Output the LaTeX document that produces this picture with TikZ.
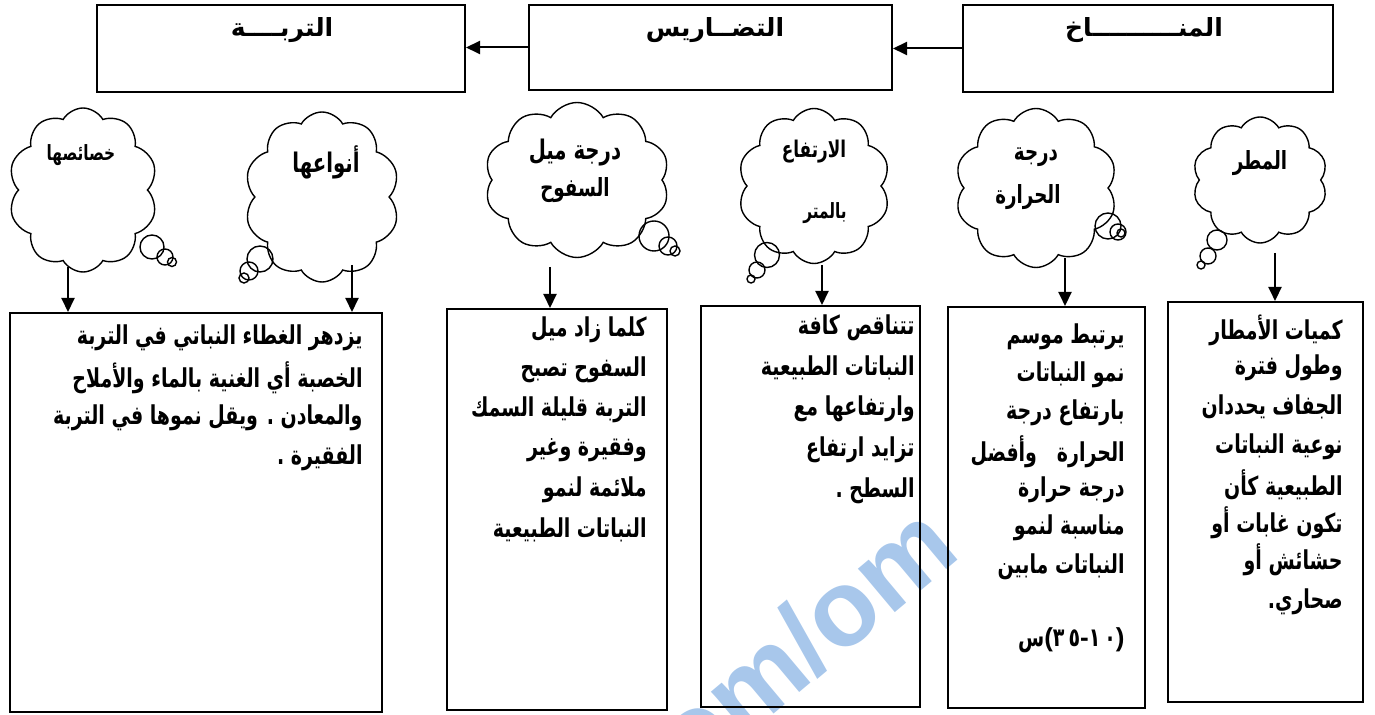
\documentclass[tikz,border=0pt]{standalone}
\usepackage{fontspec}
\usetikzlibrary{shapes.symbols,arrows.meta}
\TeXXeTstate=1
\newfontfamily\arabicfont[Script=Arabic,FakeStretch=0.73]{DejaVu Sans}
\newfontfamily\arabichd[Script=Arabic]{DejaVu Sans}
\newfontfamily\wmfont{Liberation Sans}
\definecolor{wmblue}{RGB}{168,199,235}
\newcommand{\artxt}[1]{\beginR #1\endR}
\begin{document}
\begin{tikzpicture}[x=0.5pt,y=-0.5pt,
  box/.style={draw, line width=1pt, inner sep=0pt},
  arr/.style={line width=1pt, -{Triangle[length=7pt,width=6.5pt]}},
  cl/.style={cloud, draw, line width=0.7pt, cloud puffs=10, cloud puff arc=120, cloud ignores aspect, inner sep=0pt},
  bub/.style={draw, line width=0.7pt, circle, inner sep=0pt},
  ln/.style={anchor=east, inner sep=0pt, font=\arabicfont\bfseries\fontsize{13}{15}\selectfont},
  hd/.style={inner sep=0pt, font=\arabichd\bfseries\fontsize{12.5}{14}\selectfont},
  ct/.style={inner sep=0pt, font=\arabicfont\bfseries\fontsize{#1}{14}\selectfont}
]
\useasboundingbox (0,0) rectangle (1375,715);
% watermark
\begin{scope}
\clip (0,0) rectangle (1375,715);
\node[inner sep=0pt, rotate=40, text=wmblue, font=\wmfont\bfseries\fontsize{54}{58}\selectfont] (wm) at (803,640) {om/om};
\end{scope}
% top boxes
\node[box, minimum width=184pt, minimum height=43.5pt] (T1) at (281,48.5) {};
\node[box, minimum width=181.5pt, minimum height=42.5pt] (T2) at (710.5,47.5) {};
\node[box, minimum width=185pt, minimum height=43.5pt] (T3) at (1148,48.5) {};
\node[hd] (h1) at (282,30) {\artxt{التربــــة}};
\node[hd] (h2) at (715,30) {\artxt{التضــاريس}};
\node[hd] (h3) at (1144,30) {\artxt{المنــــــــــاخ}};
\draw[arr] (T3.west) -- (T3.west -| T2.east);
\draw[arr] (T2.west) -- (T2.west -| T1.east);
% clouds
\node[cl, minimum width=74.5pt, minimum height=82pt] (C1) at (83,190) {};
\node[cl, minimum width=77.5pt, minimum height=85pt] (C2) at (322,197) {};
\node[cl, minimum width=92.5pt, minimum height=77.5pt] (C3) at (577,180) {};
\node[cl, minimum width=76pt, minimum height=77.5pt] (C4) at (814,186) {};
\node[cl, minimum width=81pt, minimum height=79.5pt] (C5) at (1036,188) {};
\node[cl, minimum width=67.5pt, minimum height=63pt] (C6) at (1260,180) {};
% bubbles
\node[bub, minimum size=12pt] (b1a) at (152,247) {};
\node[bub, minimum size=8pt] (b1b) at (165,257) {};
\node[bub, minimum size=4.5pt] (b1c) at (172,262) {};
\node[bub, minimum size=13pt] (b2a) at (260,259) {};
\node[bub, minimum size=9pt] (b2b) at (249,271) {};
\node[bub, minimum size=5pt] (b2c) at (244,278) {};
\node[bub, minimum size=15pt] (b3a) at (654,236) {};
\node[bub, minimum size=9pt] (b3b) at (668,246) {};
\node[bub, minimum size=5pt] (b3c) at (675,251) {};
\node[bub, minimum size=12.5pt] (b4a) at (767,255) {};
\node[bub, minimum size=8pt] (b4b) at (757,270) {};
\node[bub, minimum size=4pt] (b4c) at (751,279) {};
\node[bub, minimum size=13pt] (b5a) at (1108,226) {};
\node[bub, minimum size=8pt] (b5b) at (1118,232) {};
\node[bub, minimum size=4pt] (b5c) at (1121,233) {};
\node[bub, minimum size=10pt] (b6a) at (1217,240) {};
\node[bub, minimum size=8pt] (b6b) at (1208,256) {};
\node[bub, minimum size=4pt] (b6c) at (1201,265) {};
% cloud texts
\node[ct=10.5] (c1t) at (81,155) {\artxt{خصائصها}};
\node[ct=13.5] (c2t) at (326,162) {\artxt{أنواعها}};
\node[ct=13.5] (c3t1) at (575,153) {\artxt{درجة ميل}};
\node[ct=12.5] (c3t2) at (575,190) {\artxt{السفوح}};
\node[ct=11.5] (c4t1) at (814,152) {\artxt{الارتفاع}};
\node[ct=10.5] (c4t2) at (825,213) {\artxt{بالمتر}};
\node[ct=12.5] (c5t1) at (1036,157) {\artxt{درجة}};
\node[ct=12.5] (c5t2) at (1028,197) {\artxt{الحرارة}};
\node[ct=12.5] (c6t) at (1260,163) {\artxt{المطر}};
% text boxes
\node[box, minimum width=186pt, minimum height=199.5pt] (A) at (196,512.5) {};
\node[box, minimum width=110pt, minimum height=200.5pt] (B) at (557,509.5) {};
\node[box, minimum width=109.5pt, minimum height=200.5pt] (C) at (810.5,506.5) {};
\node[box, minimum width=98.5pt, minimum height=200.5pt] (D) at (1046.5,507.5) {};
\node[box, minimum width=97.5pt, minimum height=200pt] (E) at (1265.5,502) {};
% arrows from clouds
\coordinate (s1) at (68,267);
\coordinate (s2) at (352,265);
\coordinate (s3) at (550,267);
\coordinate (s4) at (822,265);
\coordinate (s5) at (1065,258);
\coordinate (s6) at (1275,253);
\draw[arr] (s1) -- (s1 |- A.north);
\draw[arr] (s2) -- (s2 |- A.north);
\draw[arr] (s3) -- (s3 |- B.north);
\draw[arr] (s4) -- (s4 |- C.north);
\draw[arr] (s5) -- (s5 |- D.north);
\draw[arr] (s6) -- (s6 |- E.north);
% box A
\node[ln] (a1) at (363,338) {\artxt{يزدهر الغطاء النباتي في التربة}};
\node[ln] (a2) at (363,378) {\artxt{الخصبة أي الغنية بالماء والأملاح}};
\node[ln] (a3) at (363,418) {\artxt{والمعادن . ويقل نموها في التربة}};
\node[ln] (a4) at (363,458) {\artxt{الفقيرة .}};
% box B
\node[ln] (bb1) at (647,330) {\artxt{كلما زاد ميل}};
\node[ln] (bb2) at (647,370) {\artxt{السفوح تصبح}};
\node[ln] (bb3) at (647,410) {\artxt{التربة قليلة السمك}};
\node[ln] (bb4) at (647,450) {\artxt{وفقيرة وغير}};
\node[ln] (bb5) at (647,490) {\artxt{ملائمة لنمو}};
\node[ln] (bb6) at (647,530) {\artxt{النباتات الطبيعية}};
% box C
\node[ln] (cc1) at (915,328) {\artxt{تتناقص كافة}};
\node[ln] (cc2) at (915,368) {\artxt{النباتات الطبيعية}};
\node[ln] (cc3) at (915,409) {\artxt{وارتفاعها مع}};
\node[ln] (cc4) at (915,450) {\artxt{تزايد ارتفاع}};
\node[ln] (cc5) at (915,491) {\artxt{السطح .}};
% box D
\node[ln] (dd1) at (1125,337) {\artxt{يرتبط موسم}};
\node[ln] (dd2) at (1125,375) {\artxt{نمو النباتات}};
\node[ln] (dd3) at (1125,413) {\artxt{بارتفاع درجة}};
\node[ln] (dd4) at (1125,452) {\artxt{الحرارة \ \ وأفضل}};
\node[ln] (dd5) at (1125,490) {\artxt{درجة حرارة}};
\node[ln] (dd6) at (1125,528) {\artxt{مناسبة لنمو}};
\node[ln] (dd7) at (1125,567) {\artxt{النباتات مابين}};
\node[ln] (dd8) at (1125,640) {\hbox{س}\hbox{\wmfont\bfseries(}\hbox{٣}\kern2pt\hbox{٥}\hbox{\wmfont\bfseries -}\hbox{١}\kern2pt\hbox{٠}\hbox{\wmfont\bfseries )}};
% box E
\node[ln] (ee1) at (1343,330) {\artxt{كميات الأمطار}};
\node[ln] (ee2) at (1343,368) {\artxt{وطول فترة}};
\node[ln] (ee3) at (1343,407) {\artxt{الجفاف يحددان}};
\node[ln] (ee4) at (1343,447) {\artxt{نوعية النباتات}};
\node[ln] (ee5) at (1343,485) {\artxt{الطبيعية كأن}};
\node[ln] (ee6) at (1343,523) {\artxt{تكون غابات أو}};
\node[ln] (ee7) at (1343,560) {\artxt{حشائش أو}};
\node[ln] (ee8) at (1343,602) {\artxt{صحاري.}};
\end{tikzpicture}
\end{document}
